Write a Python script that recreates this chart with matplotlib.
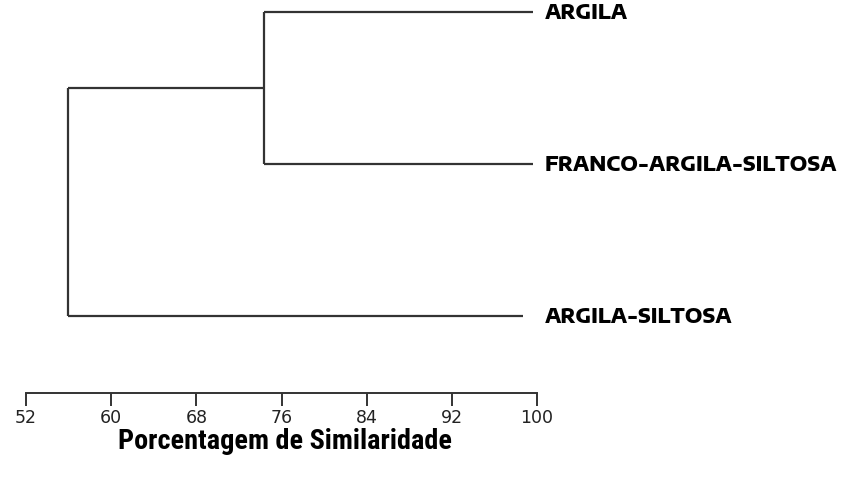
import matplotlib
matplotlib.use("Agg")
import matplotlib.pyplot as plt

# leaves (top to bottom) and merge heights (similarity %)
leaves = ["ARGILA", "FRANCO-ARGILA-SILTOSA", "ARGILA-SILTOSA"]
leaf_end = [99.6, 99.6, 98.7]     # where each leaf branch stops
merge_1 = 74.4                     # ARGILA + FRANCO-ARGILA-SILTOSA
merge_root = 55.9                  # cluster + ARGILA-SILTOSA
ticks = [52, 60, 68, 76, 84, 92, 100]

line_kw = dict(color="#333333", lw=1.6, solid_capstyle="butt")

fig = plt.figure(figsize=(8.49, 4.85), dpi=100)
ax = fig.add_axes([26 / 849, 0, 511 / 849, 1])
ax.set_xlim(52, 100)
ax.set_ylim((485 - 13) / 152, -13 / 152)   # leaf i sits at y = i

y_mid = (0 + 1) / 2
# leaf branches
ax.plot([merge_1, leaf_end[0]], [0, 0], **line_kw)
ax.plot([merge_1, leaf_end[1]], [1, 1], **line_kw)
ax.plot([merge_root, leaf_end[2]], [2, 2], **line_kw)
# first merge
ax.plot([merge_1, merge_1], [0, 1], **line_kw)
ax.plot([merge_root, merge_1], [y_mid, y_mid], **line_kw)
# root merge
ax.plot([merge_root, merge_root], [y_mid, 2], **line_kw)

for i, name in enumerate(leaves):
    ax.text(100.75, i, name, fontsize=13.8, fontweight=800,
            family=["Encode Sans Expanded", "DejaVu Sans"],
            va="center", ha="left", color="black", clip_on=False)

# similarity scale at the bottom
ax.spines[["top", "right", "left"]].set_visible(False)
ax.spines["bottom"].set_position(("data", (394 - 13) / 152))
ax.spines["bottom"].set_color("#333333")
ax.spines["bottom"].set_linewidth(1.4)
ax.set_yticks([])
ax.set_xticks(ticks)
ax.set_xticklabels([str(t) for t in ticks], fontsize=12.5, color="#222222")
ax.tick_params(axis="x", direction="out", length=9, width=1.4, color="#333333", pad=2)
ax.patch.set_alpha(0)

fig.text(285 / 849, 1 - 442 / 485, "Porcentagem de Similaridade",
         family=["Roboto Condensed", "DejaVu Sans"], fontweight="bold",
         fontsize=20.3, ha="center", va="center")

fig.savefig("out.png", dpi=100)
